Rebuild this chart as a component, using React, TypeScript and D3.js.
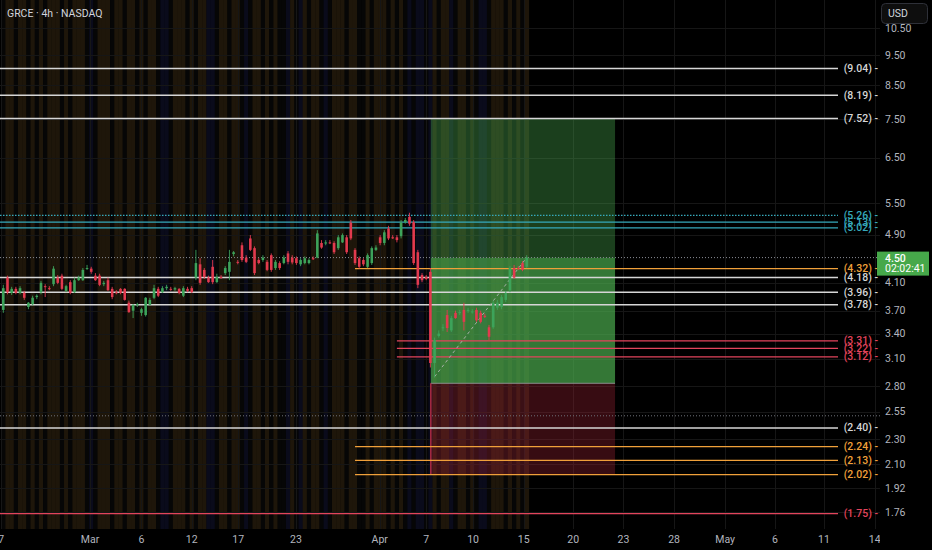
import { useEffect, useRef } from 'react'
import * as d3 from 'd3'

// 4h candles (bar 0 = first visible bar)
const openPrices = [
  3.71, 4.18, 3.95, 4.01, 3.95, 3.95, 3.75, 3.79, 3.89, 3.96,
  4.05, 4.02, 4.08, 4.18, 4.21, 3.98, 4.11, 3.96, 4.14, 4.14,
  4.32, 4.32, 4.21, 4.21, 4.08, 4.14, 4.01, 3.96, 4.01, 4.01,
  3.81, 3.70, 3.78, 3.67, 3.64, 3.78, 3.88, 4.01, 3.96, 4.02,
  4.01, 4.00, 4.01, 3.91, 4.01, 4.02, 4.18, 4.39, 4.30, 4.18,
  4.35, 4.11, 4.19, 4.25, 4.27, 4.56, 4.43, 4.71, 4.50, 4.83,
  4.66, 4.46, 4.46, 4.43, 4.54, 4.33, 4.41, 4.41, 4.57, 4.50,
  4.49, 4.39, 4.41, 4.41, 4.49, 4.50, 4.75, 4.74, 4.76, 4.75,
  4.66, 4.76, 4.85, 5.12, 4.63, 4.49, 4.46, 4.35, 4.41, 4.63,
  4.85, 4.75, 5.01, 4.85, 4.85, 4.87, 5.13, 5.23, 5.13, 4.59,
  4.22, 4.19, 4.27, 3.05, 3.37, 3.47, 3.64, 3.44, 3.67, 3.67,
  3.71, 3.70, 3.68, 3.71, 3.67, 3.63, 3.48, 3.48, 3.74, 3.75,
  3.85, 3.99, 4.33, 4.33, 4.41, 4.35,
]
const highPrices = [
  4.07, 4.21, 4.04, 4.04, 4.05, 3.98, 3.82, 3.91, 3.93, 4.13,
  4.08, 4.05, 4.36, 4.22, 4.24, 4.07, 4.14, 4.18, 4.21, 4.33,
  4.38, 4.35, 4.25, 4.24, 4.13, 4.18, 4.04, 3.99, 4.02, 4.02,
  3.84, 3.79, 3.81, 3.74, 3.89, 3.88, 4.07, 4.04, 4.05, 4.07,
  4.04, 4.04, 4.02, 4.05, 4.04, 4.05, 4.63, 4.49, 4.33, 4.21,
  4.46, 4.24, 4.22, 4.36, 4.63, 4.61, 4.46, 4.76, 4.54, 4.89,
  4.69, 4.49, 4.54, 4.46, 4.57, 4.46, 4.44, 4.54, 4.61, 4.54,
  4.52, 4.49, 4.52, 4.49, 4.52, 4.98, 4.80, 4.80, 4.80, 4.78,
  4.89, 4.92, 4.89, 5.17, 4.66, 4.52, 4.49, 4.57, 4.69, 4.71,
  4.89, 4.98, 5.06, 4.89, 4.89, 5.17, 5.21, 5.31, 5.17, 4.63,
  4.25, 4.22, 4.33, 3.35, 3.44, 3.52, 3.71, 3.63, 3.70, 3.71,
  3.81, 3.74, 3.72, 3.74, 3.70, 3.66, 3.51, 3.84, 3.85, 3.92,
  3.98, 4.36, 4.38, 4.36, 4.44, 4.54,
]
const lowPrices = [
  3.67, 3.93, 3.92, 3.93, 3.93, 3.85, 3.72, 3.77, 3.86, 3.93,
  3.89, 3.99, 4.05, 4.08, 3.99, 3.96, 3.93, 3.95, 4.13, 4.13,
  4.30, 4.24, 4.13, 4.05, 4.05, 3.98, 3.86, 3.93, 3.93, 3.84,
  3.67, 3.60, 3.75, 3.63, 3.62, 3.77, 3.86, 3.89, 3.95, 3.99,
  3.98, 3.98, 3.93, 3.89, 3.96, 3.95, 4.14, 4.07, 4.16, 4.10,
  4.08, 4.10, 4.16, 4.22, 4.14, 4.52, 4.39, 4.43, 4.41, 4.61,
  4.22, 4.39, 4.43, 4.28, 4.27, 4.30, 4.30, 4.39, 4.39, 4.39,
  4.38, 4.36, 4.39, 4.39, 4.46, 4.49, 4.65, 4.71, 4.73, 4.56,
  4.63, 4.75, 4.56, 4.80, 4.38, 4.32, 4.36, 4.33, 4.38, 4.61,
  4.71, 4.71, 4.80, 4.82, 4.76, 4.83, 5.10, 5.06, 4.38, 4.02,
  4.11, 4.14, 3.00, 2.89, 3.35, 3.43, 3.42, 3.42, 3.59, 3.64,
  3.44, 3.67, 3.66, 3.55, 3.53, 3.60, 3.32, 3.46, 3.71, 3.72,
  3.82, 3.96, 4.16, 4.30, 4.28, 4.33,
]
const closePrices = [
  4.02, 3.96, 4.01, 3.95, 4.02, 3.88, 3.81, 3.88, 3.91, 4.10,
  4.04, 4.01, 4.32, 4.10, 4.01, 4.05, 3.95, 4.14, 4.18, 4.30,
  4.33, 4.27, 4.14, 4.07, 4.10, 3.99, 3.89, 3.95, 3.95, 3.85,
  3.68, 3.78, 3.79, 3.72, 3.88, 3.85, 4.02, 3.91, 4.02, 4.04,
  4.00, 4.02, 3.95, 4.02, 3.98, 3.96, 4.41, 4.10, 4.19, 4.11,
  4.11, 4.19, 4.18, 4.33, 4.43, 4.59, 4.42, 4.46, 4.43, 4.63,
  4.25, 4.41, 4.50, 4.30, 4.30, 4.43, 4.33, 4.50, 4.43, 4.42,
  4.41, 4.46, 4.49, 4.46, 4.48, 4.92, 4.67, 4.76, 4.75, 4.59,
  4.85, 4.89, 4.59, 4.83, 4.41, 4.35, 4.39, 4.54, 4.66, 4.67,
  4.75, 4.94, 4.83, 4.84, 4.80, 5.12, 5.17, 5.10, 4.41, 4.07,
  4.14, 4.16, 3.05, 3.32, 3.40, 3.48, 3.47, 3.60, 3.60, 3.68,
  3.55, 3.71, 3.69, 3.57, 3.55, 3.62, 3.36, 3.81, 3.81, 3.89,
  3.95, 4.33, 4.18, 4.32, 4.30, 4.50,
]

// background indicator colour per bar: o = amber, b = blue, k = none
const stripeCodes =
  'kookookoko' + 'koookokooo' + 'kbkoookook' + 'ookokookbb' + 'koookokoob' + 'bkookookbk' + 'ook' +
  'okokkbokbo' + 'kookbkoook' + 'ookkokoook' + 'okokbkbbkb' +
  'okoobkookokbbkoookokoko'

// horizontal levels drawn on the chart
const levelPrices = [9.04, 8.19, 7.52, 5.26, 5.13, 5.02, 4.32, 4.18, 3.96, 3.78, 3.31, 3.22, 3.12, 2.40, 2.24, 2.13, 2.02, 1.75]
const levelKinds = ['white', 'white', 'white', 'cyan', 'cyan', 'cyan', 'orange', 'white', 'white', 'white', 'red', 'red', 'red', 'white', 'orange', 'orange', 'orange', 'red']
const levelStartBars = [-1, -1, -1, -1, -1, -1, 84, -1, -1, -1, 94, 94, 94, -1, 84, 84, 84, -1]
const dottedLevels = [5.26]

const priceTicks = [10.5, 9.5, 8.5, 7.5, 6.5, 5.5, 4.9, 4.1, 3.7, 3.4, 3.1, 2.8, 2.55, 2.3, 2.1, 1.92, 1.76]
const timeTickBars = [-0.5, 20.7, 33, 45, 56.1, 69.9, 89.9, 101, 112.2, 124.3, 136.1, 148.1, 160.2, 172.4, 184.3, 196, 208.1]
const timeTickLabels = ['7', 'Mar', '6', '12', '17', '23', 'Apr', '7', '10', '15', '20', '23', '28', 'May', '6', '11', '14']

const lastPrice = 4.5
const countdown = '02:02:41'
const extraDottedPrice = 2.51

// long position tool
const positionStartBar = 102.1
const positionEndBar = 146.1
const entryPrice = 2.83
const targetPrice = 7.52
const stopPrice = 2.02
const pathStart = { bar: 103, price: 2.9 }
const pathEnd = { bar: 125, price: 4.5 }

const kindColor: Record<string, string> = {
  white: '#d6d6d6',
  cyan: '#36a9bb',
  orange: '#f0a03a',
  red: '#e2445c',
}
const stripeColor: Record<string, string> = {
  o: '#1e160a',
  b: '#0a0b1b',
  k: '#060606',
}

export default function App() {
  const svgRef = useRef<SVGSVGElement>(null)

  useEffect(() => {
    if (!svgRef.current) return
    document.body.style.margin = '0'
    document.body.style.background = '#000'

    const svg = d3.select(svgRef.current)
    svg.selectAll('*').remove()

    const width = 932
    const height = 550
    const plotRight = 880
    const plotBottom = 529
    const lineEnd = 838
    const font = 'Roboto, "Noto Sans", sans-serif'

    svg.attr('width', width).attr('height', height).attr('viewBox', `0 0 ${width} ${height}`)

    svg.append('rect').attr('width', width).attr('height', height).attr('fill', '#000')

    const x = d3.scaleLinear().domain([0, 125]).range([3.3, 526.7])
    const y = d3.scaleLog().domain([1.76, 10.5]).range([512, 28])
    const step = x(1) - x(0)

    svg.append('clipPath').attr('id', 'plot-clip')
      .append('rect').attr('x', 0).attr('y', 0).attr('width', plotRight).attr('height', plotBottom)
    svg.append('clipPath').attr('id', 'time-clip')
      .append('rect').attr('x', 0).attr('y', plotBottom).attr('width', plotRight).attr('height', height - plotBottom)

    const plot = svg.append('g').attr('clip-path', 'url(#plot-clip)')

    // background stripes
    plot.append('g')
      .selectAll('rect')
      .data(stripeCodes.split(''))
      .join('rect')
      .attr('x', (_, i) => x(i) - step / 2)
      .attr('y', 0)
      .attr('width', step + 0.3)
      .attr('height', plotBottom)
      .attr('fill', d => stripeColor[d])

    // grid
    plot.append('g')
      .selectAll('line')
      .data(priceTicks)
      .join('line')
      .attr('x1', 0).attr('x2', plotRight)
      .attr('y1', d => Math.round(y(d)) + 0.5).attr('y2', d => Math.round(y(d)) + 0.5)
      .attr('stroke', '#161616')
    plot.append('g')
      .selectAll('line')
      .data(timeTickBars)
      .join('line')
      .attr('x1', d => Math.round(x(d)) + 0.5).attr('x2', d => Math.round(x(d)) + 0.5)
      .attr('y1', 0).attr('y2', plotBottom)
      .attr('stroke', '#161616')

    // position box
    const bx0 = x(positionStartBar)
    const bx1 = x(positionEndBar)
    const box = plot.append('g')
    box.append('rect')
      .attr('x', bx0).attr('width', bx1 - bx0)
      .attr('y', y(targetPrice)).attr('height', y(lastPrice) - y(targetPrice))
      .attr('fill', 'rgba(76,175,80,0.36)')
    box.append('rect')
      .attr('x', bx0).attr('width', bx1 - bx0)
      .attr('y', y(lastPrice)).attr('height', y(entryPrice) - y(lastPrice))
      .attr('fill', 'rgba(76,175,80,0.68)')
    box.append('rect')
      .attr('x', bx0).attr('width', bx1 - bx0)
      .attr('y', y(entryPrice)).attr('height', y(stopPrice) - y(entryPrice))
      .attr('fill', 'rgba(170,36,56,0.32)')
    box.append('line')
      .attr('x1', bx0).attr('x2', bx1)
      .attr('y1', y(entryPrice)).attr('y2', y(entryPrice))
      .attr('stroke', '#8c8c8c').attr('stroke-width', 1)
    box.append('line')
      .attr('x1', bx0).attr('x2', bx0)
      .attr('y1', y(entryPrice)).attr('y2', y(stopPrice))
      .attr('stroke', '#c8304a').attr('stroke-width', 1.2)

    // dotted reference lines
    plot.append('line')
      .attr('x1', 0).attr('x2', plotRight)
      .attr('y1', y(lastPrice)).attr('y2', y(lastPrice))
      .attr('stroke', '#8a8d95').attr('stroke-width', 1).attr('stroke-dasharray', '1,2')
    plot.append('line')
      .attr('x1', 0).attr('x2', plotRight)
      .attr('y1', y(extraDottedPrice)).attr('y2', y(extraDottedPrice))
      .attr('stroke', '#6f7279').attr('stroke-width', 1).attr('stroke-dasharray', '1,2')

    // level lines
    const levels = levelPrices.map((p, i) => ({ p, kind: levelKinds[i], start: levelStartBars[i] }))
    plot.append('g')
      .selectAll('line')
      .data(levels)
      .join('line')
      .attr('x1', d => (d.start < 0 ? 0 : x(d.start)))
      .attr('x2', lineEnd)
      .attr('y1', d => y(d.p)).attr('y2', d => y(d.p))
      .attr('stroke', d => kindColor[d.kind])
      .attr('stroke-width', d => (d.kind === 'white' ? 1.5 : 1.2))
      .attr('stroke-dasharray', d => (dottedLevels.includes(d.p) ? '1.5,1.5' : null))

    plot.append('g')
      .selectAll('text')
      .data(levels)
      .join('text')
      .attr('x', 878)
      .attr('y', d => y(d.p) + 3.5)
      .attr('text-anchor', 'end')
      .attr('font-family', font)
      .attr('font-size', 10.5)
      .attr('font-weight', 500)
      .attr('fill', d => kindColor[d.kind])
      .text(d => `(${d.p.toFixed(2)}) -`)

    // dashed path from entry to current price
    plot.append('line')
      .attr('x1', x(pathStart.bar)).attr('y1', y(pathStart.price))
      .attr('x2', x(pathEnd.bar)).attr('y2', y(pathEnd.price))
      .attr('stroke', '#a8b0a8').attr('stroke-width', 1).attr('stroke-dasharray', '3,3')

    // candles
    const candles = openPrices.map((o, i) => ({
      i, o, h: highPrices[i], l: lowPrices[i], c: closePrices[i],
    }))
    const up = '#3da35a'
    const down = '#e23a4e'
    const cg = plot.append('g')
    cg.selectAll('line')
      .data(candles)
      .join('line')
      .attr('x1', d => x(d.i)).attr('x2', d => x(d.i))
      .attr('y1', d => y(d.h)).attr('y2', d => y(d.l))
      .attr('stroke', d => (d.c >= d.o ? up : down))
      .attr('stroke-width', 0.9)
    const bodyW = step * 0.62
    cg.selectAll('rect')
      .data(candles)
      .join('rect')
      .attr('x', d => x(d.i) - bodyW / 2)
      .attr('width', bodyW)
      .attr('y', d => y(Math.max(d.o, d.c)))
      .attr('height', d => Math.max(1, Math.abs(y(d.o) - y(d.c))))
      .attr('fill', d => (d.c >= d.o ? up : down))

    // header
    svg.append('text')
      .attr('x', 7).attr('y', 17)
      .attr('font-family', font).attr('font-size', 10.5)
      .attr('fill', '#d1d4dc')
      .text('GRCE · 4h · NASDAQ')

    // price axis
    svg.append('g')
      .selectAll('text')
      .data(priceTicks)
      .join('text')
      .attr('x', 885)
      .attr('y', d => y(d) + 3.5)
      .attr('font-family', font).attr('font-size', 10.5)
      .attr('fill', '#b2b5be')
      .text(d => d.toFixed(2))

    // time axis
    svg.append('g')
      .attr('clip-path', 'url(#time-clip)')
      .selectAll('text')
      .data(timeTickBars.map((b, i) => ({ b, label: timeTickLabels[i] })))
      .join('text')
      .attr('x', d => x(d.b))
      .attr('y', 543)
      .attr('text-anchor', 'middle')
      .attr('font-family', font).attr('font-size', 10.5)
      .attr('fill', '#b2b5be')
      .text(d => d.label)

    // USD button
    const usd = svg.append('g')
    usd.append('rect')
      .attr('x', 881.5).attr('y', 3.5).attr('width', 46).attr('height', 20).attr('rx', 4)
      .attr('fill', '#0e0e0e').attr('stroke', '#2e3038')
    usd.append('text')
      .attr('x', 888).attr('y', 17)
      .attr('font-family', font).attr('font-size', 10.5)
      .attr('fill', '#d1d4dc')
      .text('USD')

    // last price tag
    const tag = svg.append('g')
    tag.append('rect')
      .attr('x', 877).attr('y', y(lastPrice) - 6).attr('width', 52).attr('height', 24)
      .attr('fill', '#46a84a')
    tag.append('text')
      .attr('x', 885).attr('y', y(lastPrice) + 4)
      .attr('font-family', font).attr('font-size', 10.5).attr('font-weight', 500)
      .attr('fill', '#fff')
      .text(lastPrice.toFixed(2))
    tag.append('text')
      .attr('x', 885).attr('y', y(lastPrice) + 14.5)
      .attr('font-family', font).attr('font-size', 10.5)
      .attr('fill', '#fff')
      .text(countdown)
  }, [])

  return <svg ref={svgRef} style={{ display: 'block' }} />
}
